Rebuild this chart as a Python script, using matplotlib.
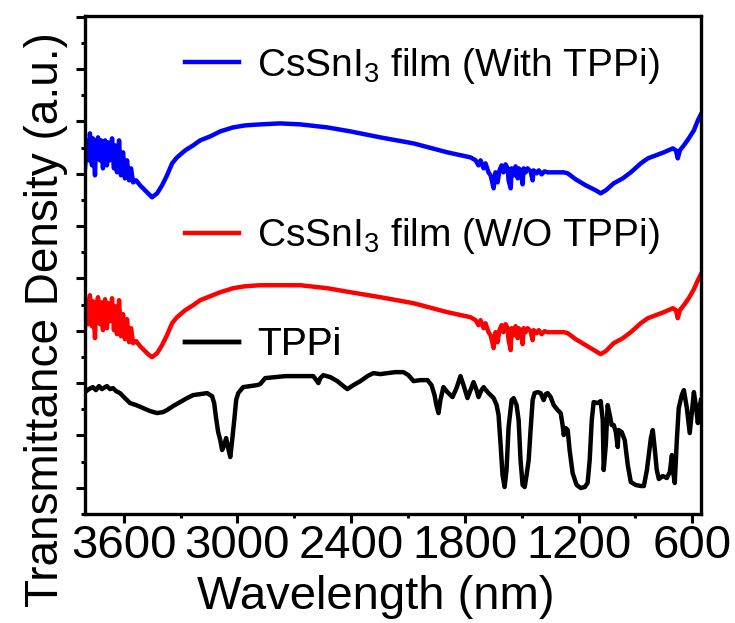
import numpy as np
import matplotlib
matplotlib.use('Agg')
import matplotlib.pyplot as plt
from matplotlib.lines import Line2D

plt.rcParams['font.family'] = ['Liberation Sans', 'DejaVu Sans']
plt.rcParams['mathtext.fontset'] = 'custom'
plt.rcParams['mathtext.rm'] = 'Liberation Sans'
plt.rcParams['mathtext.default'] = 'regular'

# wavenumber grid of the two film spectra
wn_film = [3805, 3794, 3784, 3779, 3768, 3763, 3752, 3747, 3736, 3726, 3720, 3710, 3699, 3689,
           3683, 3673, 3662, 3652, 3646, 3636, 3625, 3615, 3604, 3594, 3583, 3572, 3562, 3551,
           3535, 3514, 3488, 3472, 3451, 3424, 3398, 3372, 3345, 3319, 3276, 3234, 3197, 3144,
           3091, 3023, 2959, 2880, 2774, 2668, 2526, 2404, 2246, 2071, 1892, 1770, 1743, 1728,
           1717, 1701, 1691, 1675, 1664, 1654, 1648, 1638, 1627, 1617, 1606, 1596, 1585, 1574,
           1569, 1558, 1553, 1542, 1532, 1521, 1516, 1506, 1495, 1490, 1479, 1469, 1453, 1442,
           1437, 1421, 1410, 1395, 1379, 1363, 1321, 1278, 1257, 1215, 1162, 1109, 1083, 1056,
           1014, 966, 924, 871, 834, 792, 750, 702, 686, 676, 665, 644, 618, 591, 570, 554]

# CsSnI3 film with TPPi (stacked on top)
t_with = [346, 374, 354, 381, 349, 376, 339, 369, 377, 354, 374, 346, 374, 349,
          372, 354, 376, 346, 369, 342, 374, 339, 362, 336, 354, 334, 346, 332,
          334, 329, 324, 321, 317, 321, 329, 339, 351, 357, 364, 369, 374, 378,
          383, 387, 389, 390, 391, 390, 387, 383, 377, 371, 362, 357, 354, 349,
          354, 346, 351, 342, 339, 331, 326, 342, 332, 344, 349, 342, 350, 346,
          334, 326, 346, 339, 348, 336, 346, 344, 330, 346, 342, 346, 343, 334,
          344, 341, 344, 340, 343, 342, 342, 342, 341, 335, 329, 324, 321, 324,
          331, 336, 342, 351, 356, 359, 362, 366, 364, 356, 364, 369, 376, 384, 394, 400]

# CsSnI3 film without TPPi
t_without = [186, 214, 190, 219, 188, 213, 176, 208, 217, 190, 212, 184, 215, 186,
             211, 193, 216, 184, 208, 180, 214, 178, 200, 175, 195, 172, 186, 171,
             173, 168, 163, 160, 157, 161, 169, 179, 191, 197, 204, 209, 214, 218,
             222, 226, 228, 229, 229, 229, 226, 222, 217, 211, 202, 197, 194, 189,
             194, 186, 191, 182, 179, 171, 166, 182, 172, 184, 189, 182, 190, 186,
             174, 164, 186, 179, 188, 176, 186, 184, 170, 186, 182, 186, 183, 174,
             184, 181, 184, 180, 183, 182, 182, 182, 181, 175, 169, 163, 160, 163,
             171, 176, 182, 191, 196, 199, 202, 206, 204, 196, 204, 209, 216, 225, 234, 240]

# TPPi powder
wn_tppi = [3805, 3784, 3763, 3747, 3731, 3715, 3699, 3689, 3673, 3657, 3641, 3620, 3594, 3567,
           3535, 3498, 3461, 3424, 3393, 3372, 3340, 3303, 3266, 3234, 3197, 3160, 3144, 3134,
           3123, 3113, 3102, 3091, 3081, 3070, 3060, 3049, 3038, 3028, 3017, 3007, 2996, 2970,
           2933, 2896, 2880, 2854, 2801, 2748, 2706, 2642, 2600, 2584, 2573, 2563, 2547, 2510,
           2473, 2441, 2420, 2388, 2351, 2314, 2283, 2246, 2209, 2166, 2124, 2098, 2071, 2034,
           1997, 1976, 1960, 1950, 1939, 1929, 1913, 1892, 1865, 1844, 1823, 1807, 1786, 1770,
           1754, 1738, 1728, 1712, 1701, 1680, 1664, 1648, 1632, 1622, 1611, 1601, 1590, 1580,
           1569, 1553, 1542, 1527, 1516, 1506, 1495, 1484, 1474, 1463, 1453, 1442, 1432, 1416,
           1400, 1384, 1373, 1363, 1347, 1331, 1310, 1294, 1284, 1278, 1268, 1257, 1247, 1231,
           1210, 1188, 1167, 1152, 1141, 1130, 1120, 1099, 1083, 1072, 1067, 1056, 1046, 1035,
           1025, 1014, 1003, 993, 988, 972, 956, 940, 924, 898, 871, 855, 839, 829,
           818, 808, 797, 787, 776, 755, 734, 718, 707, 702, 692, 681, 671, 655,
           644, 628, 613, 602, 591, 581, 570, 559, 554]
t_tppi = [122, 125, 127, 124, 128, 125, 127, 128, 125, 126, 123, 121, 116, 111,
          109, 106, 103, 101, 102, 104, 108, 112, 116, 119, 120, 121, 119, 118,
          111, 96, 82, 74, 64, 69, 76, 66, 57, 74, 94, 114, 121, 127,
          128, 129, 130, 136, 137, 138, 138, 138, 138, 134, 131, 136, 139, 137,
          133, 128, 125, 129, 133, 138, 141, 140, 141, 142, 142, 139, 133, 134,
          134, 129, 119, 109, 101, 114, 127, 122, 117, 126, 138, 129, 116, 124,
          132, 124, 117, 124, 127, 122, 119, 116, 109, 99, 69, 39, 27, 44,
          87, 114, 116, 109, 94, 54, 29, 27, 39, 54, 84, 114, 121, 122,
          121, 114, 120, 121, 117, 109, 104, 101, 89, 79, 86, 84, 64, 41,
          29, 26, 27, 31, 54, 94, 112, 111, 113, 94, 44, 69, 109, 99,
          89, 89, 82, 67, 84, 82, 74, 49, 32, 29, 28, 28, 44, 59,
          76, 84, 64, 44, 35, 38, 36, 42, 59, 44, 31, 74, 106, 119,
          124, 106, 81, 101, 122, 109, 91, 109, 114]

series = [
    (wn_film, t_with, 'blue', 'CsSnI$_3$ film (With TPPi)', 0.900),
    (wn_film, t_without, 'red', 'CsSnI$_3$ film (W/O TPPi)', 0.558),
    (wn_tppi, t_tppi, 'black', 'TPPi', 0.339),
]

fig = plt.figure(figsize=(7.35, 6.23), dpi=100)
ax = fig.add_axes([0.1156, 0.175, 0.838, 0.7993])

for wn, t, col, lab, ly in series:
    ax.plot(wn, t, color=col, lw=3.2, solid_joinstyle='round')
    leg = ax.legend(handles=[Line2D([], [], color=col, lw=3.2)], labels=[lab],
                    loc='center left', bbox_to_anchor=(0.162, ly), frameon=False,
                    fontsize=28, handlelength=1.4, handletextpad=0.45,
                    borderpad=0, borderaxespad=0)
    ax.add_artist(leg)

ax.set_xlim(3805, 554)
ax.set_ylim(0, 498.5)
ax.set_xticks([3600, 3000, 2400, 1800, 1200, 600])
ax.set_xticks(np.arange(3300, 500, -600), minor=True)
ax.set_yticks(np.arange(26.2, 500, 52.4))
ax.set_yticks(np.arange(0, 490, 52.4), minor=True)
ax.set_yticklabels([])

ax.tick_params(which='both', direction='out', width=2.2, top=False, right=False)
ax.tick_params(which='major', length=6.5, labelsize=34, pad=1)
ax.tick_params(which='minor', length=3)
for s in ax.spines.values():
    s.set_linewidth(2.4)

ax.set_xlabel('Wavelength (nm)', fontsize=34)
ax.xaxis.set_label_coords(0.472, -0.122)
ax.set_ylabel('Transmittance Density (a.u.)', fontsize=33)
ax.yaxis.set_label_coords(-0.028, 0.39)

fig.savefig('out.png', dpi=100)
